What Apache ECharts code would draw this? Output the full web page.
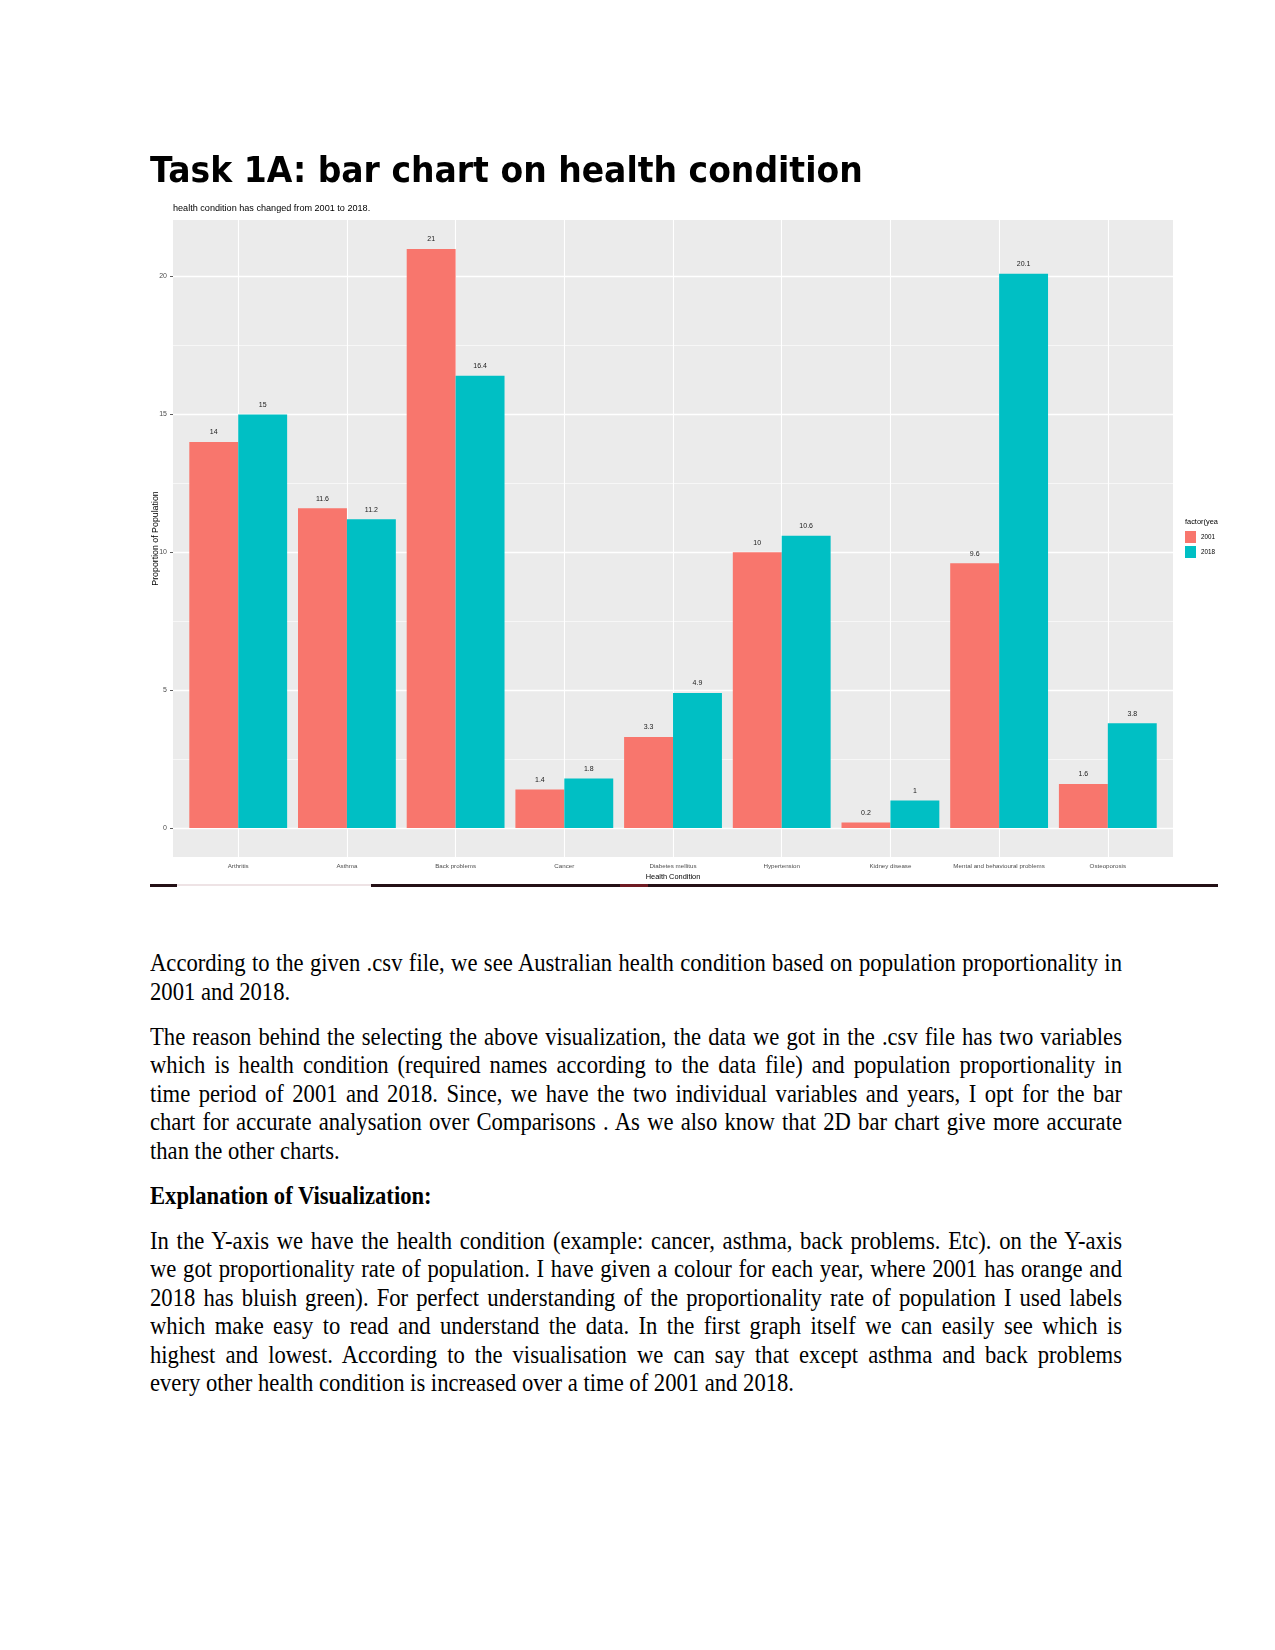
<!DOCTYPE html>
<html>
<head>
<meta charset="utf-8">
<script src="https://cdn.jsdelivr.net/npm/echarts@6/dist/echarts.min.js"></script>
<style>
  html, body { margin: 0; padding: 0; background: #fff; }
  body { width: 1275px; height: 1650px; position: relative; overflow: hidden; }
  #chart { position: absolute; left: 0; top: 0; width: 1275px; height: 900px; }
  #title { position: absolute; left: 150px; top: 151.5px; font-family: 'DejaVu Sans', sans-serif; font-weight: bold; font-size: 36px; line-height: 36px; color: #000; white-space: nowrap; transform: scaleX(0.918); transform-origin: 0 0; }
  .rule { position: absolute; height: 3px; top: 884px; }
  #text { position: absolute; left: 150px; top: 949px; width: 1074px; font-family: 'Liberation Serif', 'Times New Roman', serif; font-size: 25px; line-height: 28.5px; color: #000; transform: scaleX(0.905); transform-origin: 0 0; }
  #text .p { margin: 0 0 16.5px 0; }
  #text .l { white-space: nowrap; text-align: justify; text-align-last: justify; }
  #text .l.last { text-align: left; text-align-last: left; }
  #text .b { font-weight: bold; }
</style>
</head>
<body>
<div id="chart"></div>
<div id="title">Task 1A: bar chart on health condition</div>
<div class="rule" style="left:150px;width:27px;background:#241016;"></div>
<div class="rule" style="left:177px;width:194px;height:2px;background:#eee3e5;"></div>
<div class="rule" style="left:371px;width:249px;background:#241016;"></div>
<div class="rule" style="left:620px;width:28px;background:#6e1a22;"></div>
<div class="rule" style="left:648px;width:570px;background:#241016;"></div>
<div id="text">
<div class="p">
<div class="l">According to the given .csv file, we see Australian health condition based on population proportionality in</div>
<div class="l last">2001 and 2018.</div>
</div>
<div class="p">
<div class="l">The reason behind the selecting the above visualization, the data we got in the .csv file has two variables</div>
<div class="l">which is health condition (required names according to the data file) and population proportionality in</div>
<div class="l">time period of 2001 and 2018. Since, we have the two individual variables and years, I opt for the bar</div>
<div class="l">chart for accurate analysation over Comparisons . As we also know that 2D bar chart give more accurate</div>
<div class="l last">than the other charts.</div>
</div>
<div class="p b">
<div class="l last">Explanation of Visualization:</div>
</div>
<div class="p">
<div class="l">In the Y-axis we have the health condition (example: cancer, asthma, back problems. Etc). on the Y-axis</div>
<div class="l">we got proportionality rate of population. I have given a colour for each year, where 2001 has orange and</div>
<div class="l">2018 has bluish green). For perfect understanding of the proportionality rate of population I used labels</div>
<div class="l">which make easy to read and understand the data. In the first graph itself we can easily see which is</div>
<div class="l">highest and lowest. According to the visualisation we can say that except asthma and back problems</div>
<div class="l last">every other health condition is increased over a time of 2001 and 2018.</div>
</div>
</div>
<script>
const categories = ['Arthritis', 'Asthma', 'Back problems', 'Cancer', 'Diabetes mellitus', 'Hypertension', 'Kidney disease', 'Mental and behavioural problems', 'Osteoporosis'];
const values2001 = [14, 11.6, 21, 1.4, 3.3, 10, 0.2, 9.6, 1.6];
const values2018 = [15, 11.2, 16.4, 1.8, 4.9, 10.6, 1, 20.1, 3.8];
const seriesNames = ['2001', '2018'];
const yTicks = [0, 5, 10, 15, 20];
const yMinorTicks = [2.5, 7.5, 12.5, 17.5];
const yMin = -1.05, yMax = 22.05;
const colors = ['#F8766D', '#00BFC4'];

const chart = echarts.init(document.getElementById('chart'), null, { renderer: 'canvas' });

const labelFont = 'Liberation Sans, Arial, sans-serif';
const gridLines = yTicks.map(v => ({ yAxis: v, lineStyle: { color: '#ffffff', width: 1.3, type: 'solid' } }))
  .concat(yMinorTicks.map(v => ({ yAxis: v, lineStyle: { color: '#ffffff', width: 0.6, type: 'solid' } })));
const vLines = categories.map(c => ({ xAxis: c, lineStyle: { color: '#ffffff', width: 1.1, type: 'solid' } }));

const option = {
  animation: false,
  textStyle: { fontFamily: labelFont },
  title: [
    { text: 'health condition has changed from 2001 to 2018.', left: 173, top: 204, padding: 0,
      textStyle: { fontSize: 9.1, fontWeight: 'normal', color: '#000', fontFamily: labelFont } },
    { text: 'factor(yea', left: 1185, top: 518, padding: 0,
      textStyle: { fontSize: 7.4, fontWeight: 'normal', color: '#000', fontFamily: labelFont } }
  ],
  legend: {
    data: seriesNames, orient: 'vertical', left: 1185, top: 531, padding: 0,
    itemWidth: 11, itemHeight: 12, itemGap: 3, icon: 'rect',
    textStyle: { fontSize: 6.3, color: '#000', fontFamily: labelFont }
  },
  grid: [
    { left: 173, top: 220, width: 1000, height: 637, show: true, backgroundColor: '#EBEBEB', borderWidth: 0 },
    { left: 183.87, top: 220, width: 978.3, height: 637, show: false }
  ],
  xAxis: [
    { gridIndex: 0, type: 'value', min: 0, max: 1, show: false },
    { gridIndex: 1, type: 'category', data: categories,
      axisLine: { show: false },
      axisTick: { show: true, alignWithLabel: true, length: 3, lineStyle: { color: '#333', width: 0.8 } },
      axisLabel: { fontSize: 6.2, color: '#4D4D4D', margin: 6, interval: 0 },
      splitLine: { show: false },
      name: 'Health Condition', nameLocation: 'middle', nameGap: 16, nameMoveOverlap: false,
      nameTextStyle: { fontSize: 7.4, color: '#000' } }
  ],
  yAxis: [
    { gridIndex: 0, type: 'value', min: yMin, max: yMax,
      axisLine: { show: false },
      axisTick: { show: true, customValues: yTicks, length: 3, lineStyle: { color: '#333', width: 0.8 } },
      axisLabel: { customValues: yTicks, fontSize: 7, color: '#4D4D4D', margin: 6 },
      splitLine: { show: false },
      name: 'Proportion of Population', nameLocation: 'middle', nameGap: 13, nameRotate: 90, nameMoveOverlap: false,
      nameTextStyle: { fontSize: 8.8, color: '#000' } },
    { gridIndex: 1, type: 'value', min: yMin, max: yMax, show: false, splitLine: { show: false } }
  ],
  series: [
    { type: 'line', xAxisIndex: 0, yAxisIndex: 0, data: [], silent: true, z: 1,
      markLine: { silent: true, symbol: 'none', z: 1, label: { show: false }, animation: false, data: gridLines } },
    { type: 'line', xAxisIndex: 1, yAxisIndex: 1, data: [], silent: true, z: 1,
      markLine: { silent: true, symbol: 'none', z: 1, label: { show: false }, animation: false, data: vLines } },
    { name: seriesNames[0], type: 'bar', xAxisIndex: 1, yAxisIndex: 1, data: values2001,
      barWidth: '45%', barGap: '0%', itemStyle: { color: colors[0] }, z: 3,
      label: { show: true, position: 'top', distance: 6, fontSize: 7, color: '#1a1a1a' } },
    { name: seriesNames[1], type: 'bar', xAxisIndex: 1, yAxisIndex: 1, data: values2018,
      barWidth: '45%', barGap: '0%', itemStyle: { color: colors[1] }, z: 3,
      label: { show: true, position: 'top', distance: 6, fontSize: 7, color: '#1a1a1a' } }
  ]
};
chart.setOption(option);
</script>
</body>
</html>
